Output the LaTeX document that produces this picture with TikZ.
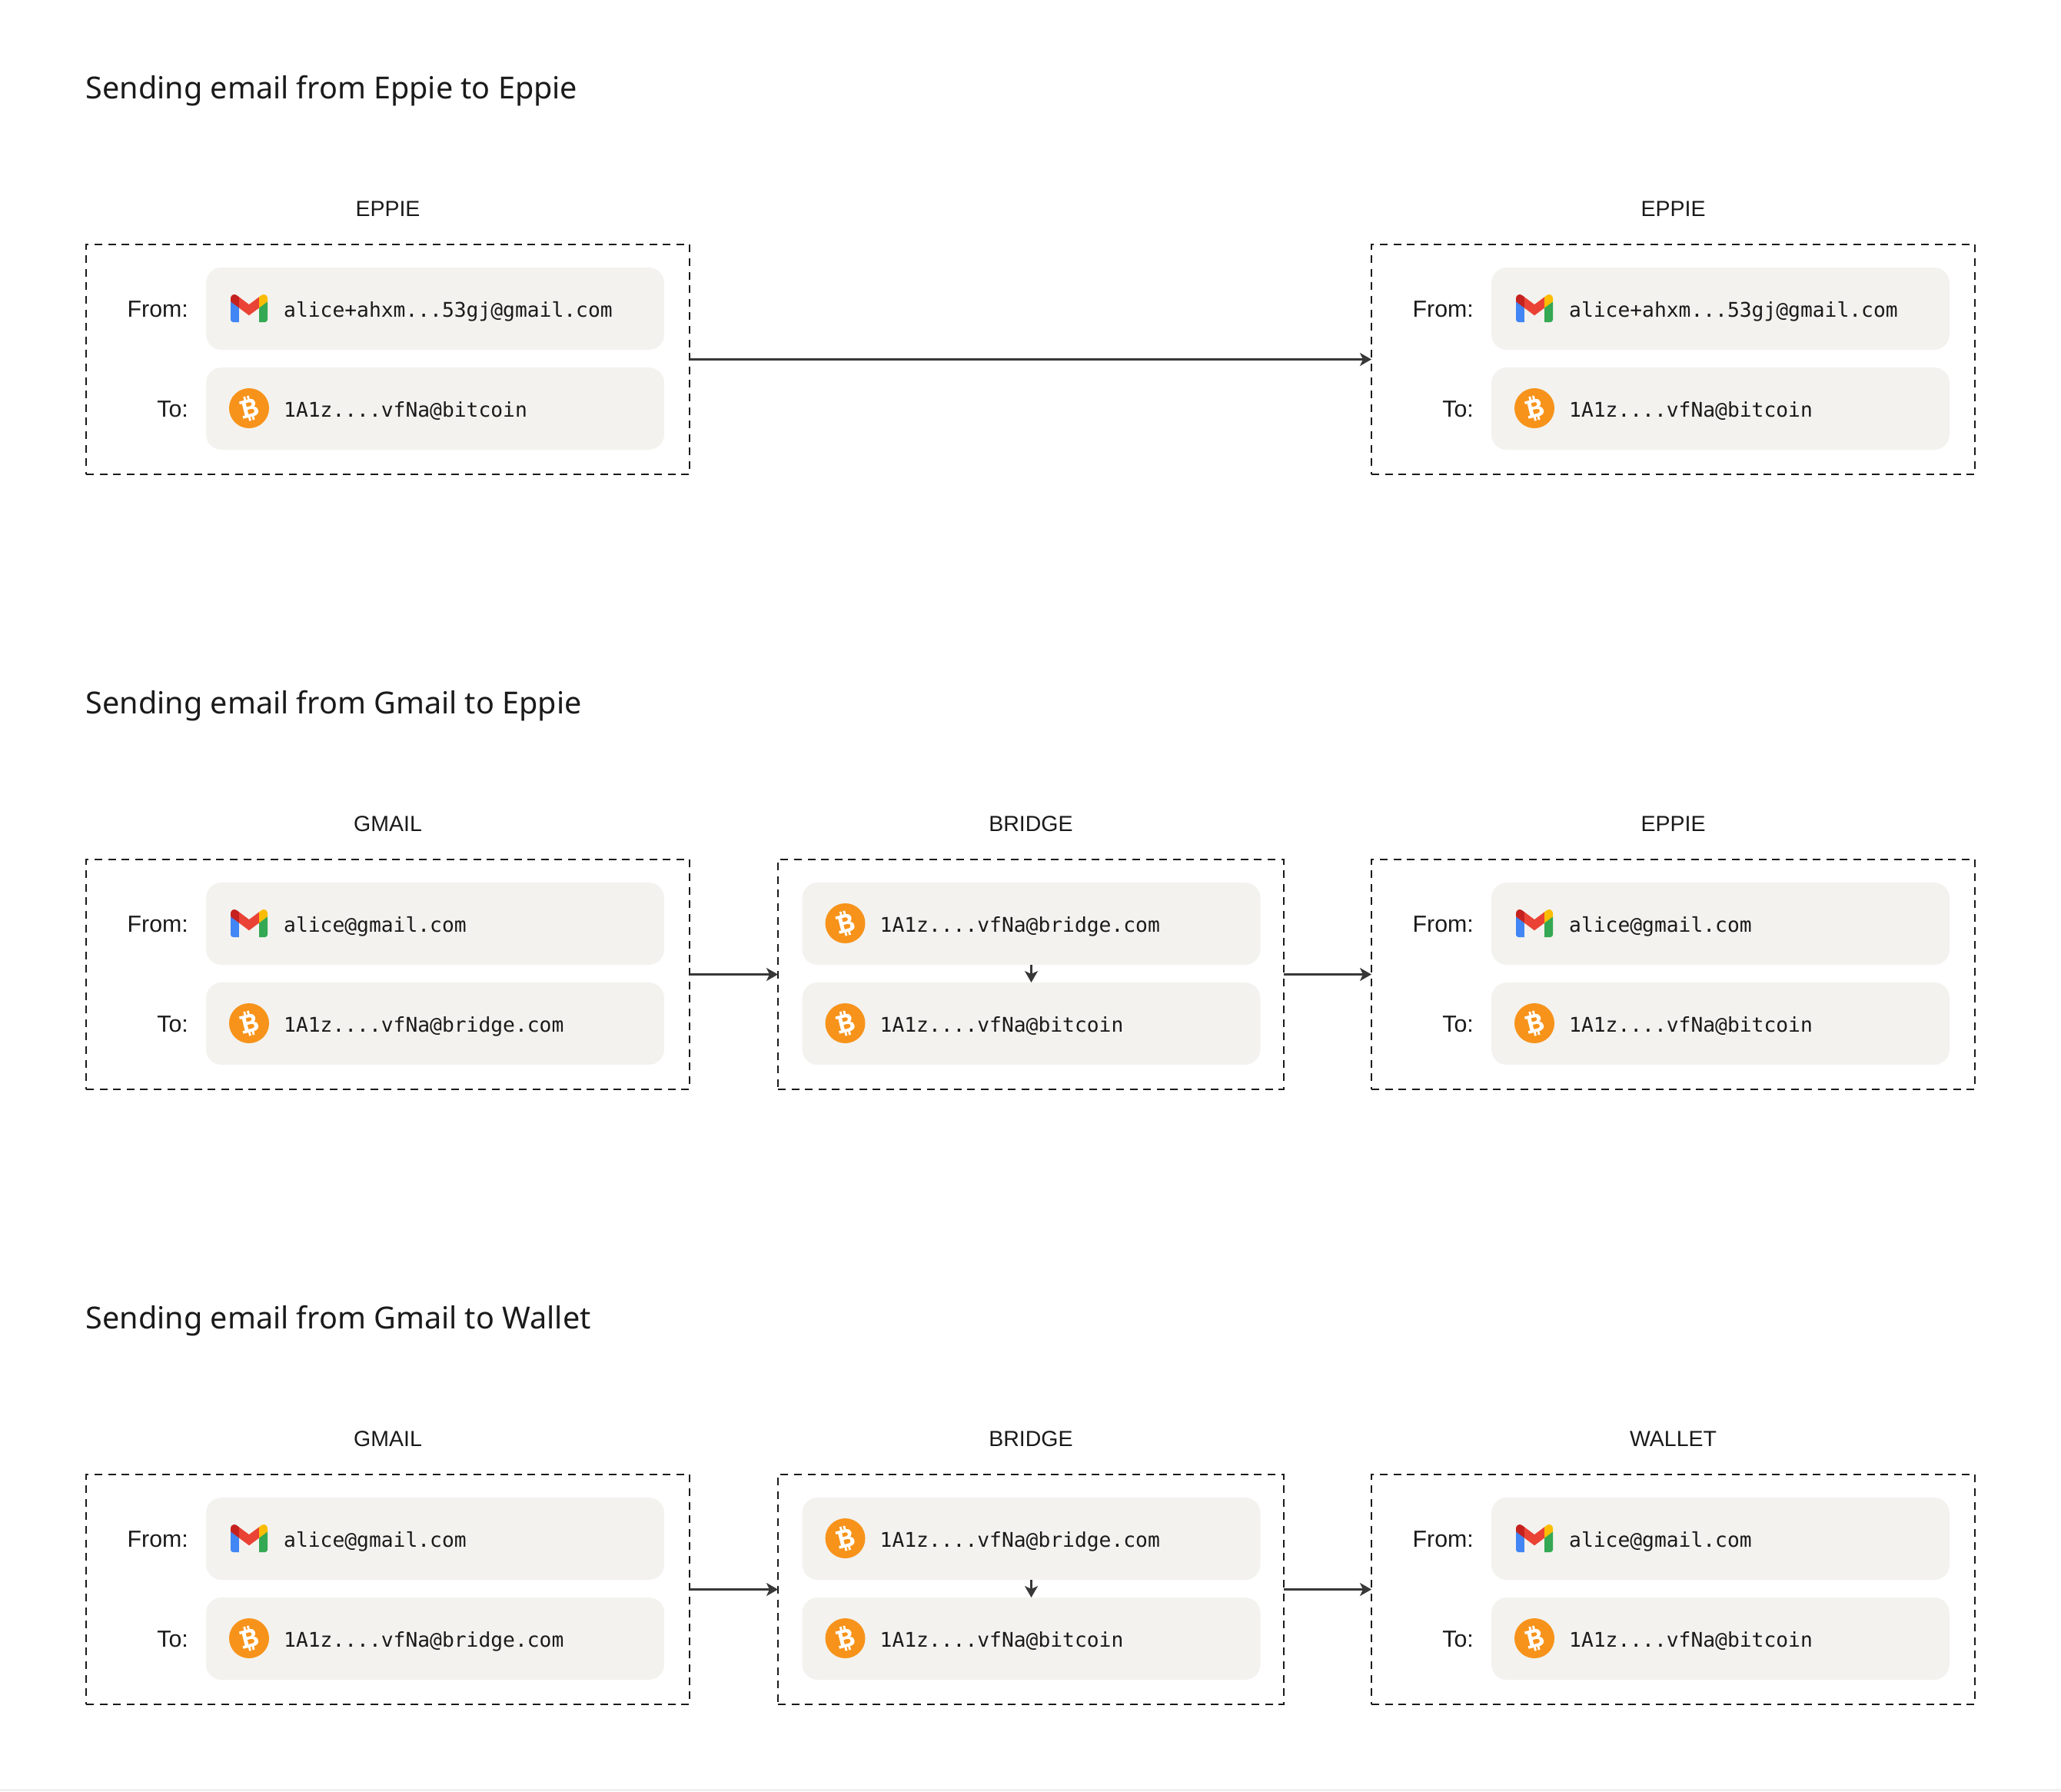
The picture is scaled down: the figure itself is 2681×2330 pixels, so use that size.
\documentclass[tikz,border=0pt]{standalone}
\usepackage{fontspec}
\setmainfont{Liberation Sans}
\newfontfamily\titlefont{Noto Sans}
\newfontfamily\addrfont{DejaVu Sans Mono}
\usetikzlibrary{arrows.meta}

\definecolor{rowgray}{HTML}{F3F2EE}
\definecolor{inkdark}{HTML}{1A1A1A}
\definecolor{arrowdark}{HTML}{383838}
\definecolor{btcorange}{HTML}{F7931A}
\definecolor{gmailblue}{HTML}{4285F4}
\definecolor{gmailgreen}{HTML}{34A853}
\definecolor{gmailred}{HTML}{EA4335}
\definecolor{gmailyellow}{HTML}{FBBC04}
\definecolor{gmaildark}{HTML}{C5221F}

\tikzset{
    sectiontitle/.style={anchor=base west, inner sep=0pt, text=inkdark, font=\titlefont\fontsize{39.55}{48}\selectfont},
    boxlabel/.style={anchor=base, inner sep=0pt, text=inkdark, font=\fontsize{28.5}{36}\selectfont},
    fieldlabel/.style={anchor=base east, inner sep=0pt, text=inkdark, font=\fontsize{30.3}{36}\selectfont},
    addrtext/.style={anchor=base west, inner sep=0pt, text=inkdark, font=\addrfont\fontsize{26.3}{30}\selectfont},
    dashbox/.style={draw=inkdark, line width=2.2pt, dash pattern=on 10pt off 7.6pt, anchor=north west, inner sep=0pt, outer sep=0pt, minimum height=299pt},
    addrrow/.style={fill=rowgray, rounded corners=20pt, anchor=north west, inner sep=0pt, outer sep=0pt, minimum width=596pt, minimum height=107pt},
    flow/.style={draw=arrowdark, line width=2.4pt, -{Stealth[length=15pt, width=17pt, inset=4pt]}},
}

% Address icons, drawn around their centre
\newcommand{\gmailicon}{
    \begin{scope}[shift={(-24,-18)}, scale=0.1875]
        \fill[gmailblue] (58.182,192.05) -- (58.182,93.14) -- (27.507,65.077) -- (0,49.504) -- (0,174.595) .. controls (0,184.253) and (7.825,192.05) .. (17.455,192.05) -- cycle;
        \fill[gmailgreen] (197.818,192.05) -- (238.545,192.05) .. controls (248.204,192.05) and (256,184.224) .. (256,174.595) -- (256,49.505) -- (224.844,67.342) -- (197.818,93.14) -- cycle;
        \fill[gmailred] (58.182,93.14) -- (54.008,54.493) -- (58.182,17.504) -- (128,69.868) -- (197.818,17.504) -- (202.487,52.496) -- (197.818,93.14) -- (128,145.504) -- cycle;
        \fill[gmailyellow] (197.818,17.504) -- (197.818,93.14) -- (256,49.504) -- (256,26.231) .. controls (256,4.646) and (231.36,-7.659) .. (214.11,5.286) -- cycle;
        \fill[gmaildark] (0,49.504) -- (26.759,69.574) -- (58.182,93.14) -- (58.182,17.504) -- (41.89,5.286) .. controls (24.61,-7.66) and (0,4.646) .. (0,26.23) -- cycle;
    \end{scope}
}
\newcommand{\btcicon}{
    \fill[btcorange] (0,0) circle (26pt);
    \begin{scope}[rotate=14, xscale=0.88, yscale=1.04]
        \fill[white, even odd rule]
            (-12,-11) -- (3,-11) .. controls (9,-11) and (11,-8) .. (11,-5.5) .. controls (11,-3) and (9.5,-1.4) .. (7.5,-0.6)
            .. controls (10.5,0) and (12.5,2.2) .. (12.5,5) .. controls (12.5,8.6) and (9,11) .. (4,11) -- (-12,11) -- (-12,7.6) -- (-8.6,7.6) -- (-8.6,-7.6) -- (-12,-7.6) -- cycle
            (-3,-7.2) -- (-3,-2.2) -- (2,-2.2) .. controls (4,-2.2) and (5.4,-3.2) .. (5.4,-4.7) .. controls (5.4,-6.2) and (4,-7.2) .. (2,-7.2) -- cycle
            (-3,1.4) -- (-3,7.2) -- (3,7.2) .. controls (5.2,7.2) and (6.8,6) .. (6.8,4.3) .. controls (6.8,2.6) and (5.2,1.4) .. (3,1.4) -- cycle;
        \foreach \xtick in {-4.4,1}{
            \fill[white] (\xtick,-15.5) rectangle (\xtick+3.2,-10);
            \fill[white] (\xtick,10) rectangle (\xtick+3.2,15.5);
        }
    \end{scope}
}

\def\longaddr{alice+ahxm...53gj@gmail.com}
\def\gmailaddr{alice@gmail.com}
\def\btcaddr{1A1z....vfNa@bitcoin}
\def\bridgeaddr{1A1z....vfNa@bridge.com}

\begin{document}
\begin{tikzpicture}[x=1pt, y=-1pt]
    \useasboundingbox (0,0) rectangle (2681,2330);
    \fill[gray!12] (0,2327) rectangle (2681,2330);

    % Section titles
    \foreach \sec/\ybox/\sectext in {one/318/Sending email from Eppie to Eppie, two/1118/Sending email from Gmail to Eppie, three/1918/Sending email from Gmail to Wallet}{
        \node[sectiontitle] (title\sec) at (111.5,\ybox-189.5) {\sectext};
    }

    % Dashed boxes with their two address rows
    \foreach \name/\xbox/\ybox/\wbox/\xrow/\boxtext/\fromaddr/\toaddr/\fromicon/\toicon in {
        a/112/318/785/268/EPPIE/\longaddr/\btcaddr/\gmailicon/\btcicon,
        c/1784/318/785/1940/EPPIE/\longaddr/\btcaddr/\gmailicon/\btcicon,
        d/112/1118/785/268/GMAIL/\gmailaddr/\bridgeaddr/\gmailicon/\btcicon,
        e/1012/1118/658/1043.5/BRIDGE/\bridgeaddr/\btcaddr/\btcicon/\btcicon,
        f/1784/1118/785/1940/EPPIE/\gmailaddr/\btcaddr/\gmailicon/\btcicon,
        g/112/1918/785/268/GMAIL/\gmailaddr/\bridgeaddr/\gmailicon/\btcicon,
        h/1012/1918/658/1043.5/BRIDGE/\bridgeaddr/\btcaddr/\btcicon/\btcicon,
        i/1784/1918/785/1940/WALLET/\gmailaddr/\btcaddr/\gmailicon/\btcicon}{
        \node[dashbox, minimum width=\wbox pt] (box\name) at (\xbox,\ybox) {};
        \node[boxlabel] (label\name) at (\xbox+\wbox/2,\ybox-37) {\boxtext};
        \node[addrrow] (from\name) at (\xrow,\ybox+30) {};
        \node[addrrow] (to\name) at (\xrow,\ybox+160) {};
        \node[addrtext] (fromaddr\name) at (\xrow+101,\ybox+94) {\fromaddr};
        \node[addrtext] (toaddr\name) at (\xrow+101,\ybox+224) {\toaddr};
        \begin{scope}[shift={(\xrow+56,\ybox+83)}]
            \fromicon
        \end{scope}
        \begin{scope}[shift={(\xrow+56,\ybox+213)}]
            \toicon
        \end{scope}
    }

    % From and To labels, not on the bridge boxes
    \foreach \name/\xrow/\ybox in {a/268/318, c/1940/318, d/268/1118, f/1940/1118, g/268/1918, i/1940/1918}{
        \node[fieldlabel] (fromlabel\name) at (\xrow-23,\ybox+94) {From:};
        \node[fieldlabel] (tolabel\name) at (\xrow-23,\ybox+224) {To:};
    }

    % Arrows
    \foreach \src/\dst in {a/c, d/e, e/f, g/h, h/i}{
        \draw[flow] (box\src.east) -- (box\dst.west);
    }
    \foreach \name in {e, h}{
        \draw[flow] (from\name.south) -- (to\name.north);
    }
\end{tikzpicture}
\end{document}
